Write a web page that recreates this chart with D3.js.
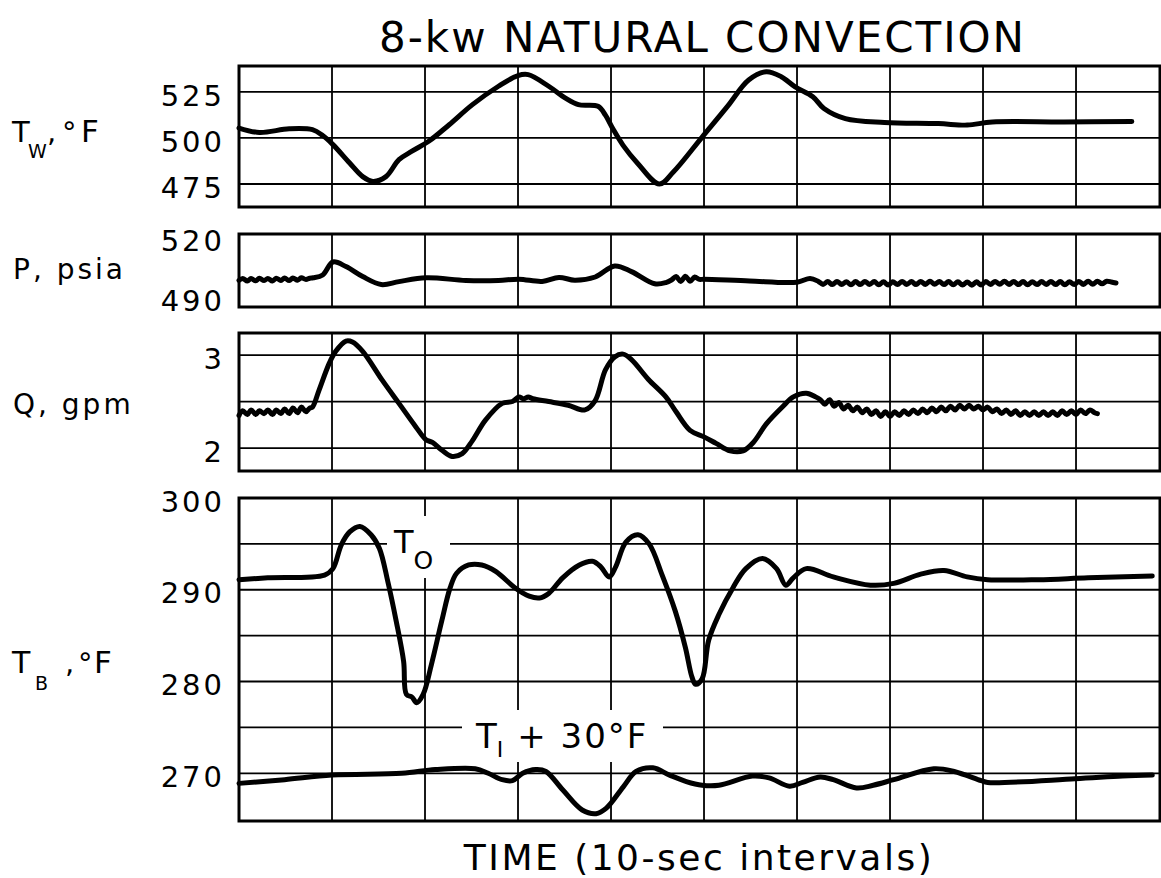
<!DOCTYPE html>
<html>
<head>
<meta charset="utf-8">
<script src="https://cdn.jsdelivr.net/npm/d3@7"></script>
<style>
  body { margin: 0; background: #fff; }
  text { font-family: 'DejaVu Sans', sans-serif; fill: #000; }
</style>
</head>
<body>
<div id="chart"></div>
<script>
// time in seconds
const timeGrid = [10, 20, 30, 40, 50, 60, 70, 80, 90];

const twGrid = [475, 500, 525];
const twTicks = [475, 500, 525];
const twData = [
    [0, 505.4], [2.2, 503], [5.4, 505], [7.9, 504.5], [9.0, 501.3], [10.1, 496.4],
    [11.9, 486.4], [13.3, 479], [14.4, 476.4], [15.8, 479], [17.2, 488.2], [18.6, 492.8],
    [20.4, 498.2], [22.6, 507.2], [25.1, 518.1], [27.9, 528.1], [30, 533.9], [31.1, 534.4],
    [33.3, 528.1], [35.1, 521.7], [36.5, 518.1], [38.6, 517.2], [39.4, 512.4], [40.2, 505],
    [41.3, 496], [42.9, 486], [45.2, 475], [46.7, 481.5], [49.8, 500.5], [52.5, 517],
    [54.8, 531.5], [56.7, 536], [58.3, 533.3], [59.8, 527.8], [61.7, 522.4], [62.9, 516],
    [65.2, 510.5], [69.4, 508.4], [75.2, 507.8], [78.3, 507], [81, 508.7], [88.7, 508.7],
    [96, 509]
];

const pGrid = [];
const pTicks = [490, 520];
const pData = [
    [0, 498.3], [0.4, 499.3], [0.9, 498.0], [1.3, 499.2], [1.8, 498.1], [2.2, 499.4],
    [2.7, 498.2], [3.1, 499.3], [3.6, 498.0], [4.0, 499.4], [4.5, 498.3], [4.9, 499.5],
    [5.4, 498.2], [5.8, 499.5], [6.3, 498.4], [6.7, 499.6], [7.2, 498.8], [7.6, 499.4],
    [8.0, 499.6], [9.0, 501], [10.1, 507.5], [11.5, 505.2], [13.3, 500.2], [15.3, 496.2],
    [17.2, 497.7], [20.1, 499.6], [24.4, 498.3], [27.9, 498.3], [30.1, 498.9], [32.6, 497.8],
    [34.4, 499.8], [36.1, 498.4], [38.3, 500], [40.4, 505.5], [42.2, 502.7], [44.7, 496.6],
    [45.9, 497.2], [46.5, 498.5], [47.0, 500.2], [47.5, 497.8], [48.0, 500.4], [48.5, 497.9],
    [49.0, 500.0], [49.5, 498.8], [50.0, 498.9], [54.9, 498.0], [60.0, 497.4], [61.4, 499.3],
    [62.3, 497.8], [62.8, 496.3], [63.3, 497.7], [63.8, 496.2], [64.3, 497.8], [64.8, 496.3],
    [65.3, 497.6], [65.8, 496.1], [66.3, 497.7], [66.8, 496.2], [67.3, 497.8], [67.8, 496.3],
    [68.3, 497.7], [68.8, 496.1], [69.3, 497.6], [69.8, 496.0], [70.3, 497.6], [70.8, 496.2],
    [71.3, 497.8], [71.8, 496.3], [72.3, 497.7], [72.8, 496.2], [73.3, 497.8], [73.8, 496.3],
    [74.3, 497.9], [74.8, 496.4], [75.3, 497.8], [75.8, 496.2], [76.3, 497.7], [76.8, 496.1],
    [77.3, 497.6], [77.8, 496.0], [78.3, 497.5], [78.8, 495.9], [79.3, 497.6], [79.8, 496.0],
    [80.3, 497.7], [80.8, 496.3], [81.3, 497.8], [81.8, 496.4], [82.3, 497.9], [82.8, 496.3],
    [83.3, 497.8], [83.8, 496.2], [84.3, 497.7], [84.8, 496.1], [85.3, 497.6], [85.8, 496.2],
    [86.3, 497.7], [86.8, 496.3], [87.3, 497.8], [87.8, 496.2], [88.3, 497.7], [88.8, 496.1],
    [89.3, 497.6], [89.8, 496.2], [90.3, 497.8], [90.8, 496.3], [91.3, 497.9], [91.8, 496.4],
    [92.3, 497.9], [92.8, 496.6], [93.3, 497.9], [93.8, 497.5], [94.3, 497.0]
];

const qGrid = [2, 2.5, 3];
const qTicks = [2, 3];
const qData = [
    [0, 2.35], [0.4, 2.40], [0.9, 2.36], [1.3, 2.41], [1.8, 2.36], [2.2, 2.40], [2.7, 2.37],
    [3.1, 2.41], [3.6, 2.36], [4.0, 2.41], [4.5, 2.37], [4.9, 2.42], [5.4, 2.37], [5.8, 2.43],
    [6.3, 2.38], [6.7, 2.44], [7.2, 2.39], [7.6, 2.43], [7.9, 2.44], [8.6, 2.62], [9.7, 2.91],
    [10.4, 3.04], [11.5, 3.15], [12.2, 3.14], [13.3, 3.04], [15.4, 2.73], [17.2, 2.48],
    [19, 2.23], [20.1, 2.09], [20.8, 2.06], [21.9, 1.97], [22.9, 1.91], [24, 1.94],
    [25.1, 2.08], [26.5, 2.30], [28.3, 2.48], [29.4, 2.50], [30.1, 2.55], [30.6, 2.53],
    [31.1, 2.55], [31.6, 2.53], [33.3, 2.50], [35.4, 2.46], [37.2, 2.41], [38.3, 2.51],
    [39.4, 2.84], [40.4, 2.98], [41.3, 3.01], [42.2, 2.95], [44, 2.74], [45.9, 2.55],
    [47, 2.39], [48.5, 2.19], [50, 2.12], [51.3, 2.05], [52.8, 1.97], [54.2, 1.97],
    [55.3, 2.06], [56.7, 2.26], [58.5, 2.45], [59.6, 2.55], [61, 2.59], [62.0, 2.55],
    [62.5, 2.52], [63.0, 2.47], [63.5, 2.52], [64.0, 2.45], [64.5, 2.49], [65.0, 2.42],
    [65.5, 2.46], [66.0, 2.40], [66.5, 2.44], [67.0, 2.38], [67.5, 2.42], [68.0, 2.36],
    [68.5, 2.40], [69.0, 2.34], [69.5, 2.39], [70.0, 2.34], [70.5, 2.39], [71.0, 2.35],
    [71.5, 2.40], [72.0, 2.36], [72.5, 2.41], [73.0, 2.37], [73.5, 2.42], [74.0, 2.38],
    [74.5, 2.43], [75.0, 2.39], [75.5, 2.44], [76.0, 2.40], [76.5, 2.45], [77.0, 2.41],
    [77.5, 2.46], [78.0, 2.42], [78.5, 2.46], [79.0, 2.42], [79.5, 2.45], [80.0, 2.41],
    [80.5, 2.44], [81.0, 2.39], [81.5, 2.42], [82.0, 2.37], [82.5, 2.41], [83.0, 2.36],
    [83.5, 2.40], [84.0, 2.35], [84.5, 2.39], [85.0, 2.35], [85.5, 2.39], [86.0, 2.35],
    [86.5, 2.39], [87.0, 2.35], [87.5, 2.39], [88.0, 2.35], [88.5, 2.40], [89.0, 2.36],
    [89.5, 2.40], [90.0, 2.36], [90.5, 2.41], [91.0, 2.37], [91.5, 2.41], [92.0, 2.38],
    [92.3, 2.37]
];

const tbGrid = [270, 275, 280, 285, 290, 295];
const tbTicks = [270, 280, 290, 300];
const toData = [
    [0, 291.1], [3.1, 291.3], [9.2, 291.6], [10.1, 292.3], [11, 294.9], [11.9, 296.3],
    [13, 296.9], [14.2, 296], [15.1, 294.5], [16, 290.9], [16.9, 286.6], [17.7, 282.2],
    [18, 278.6], [18.6, 278.3], [19.1, 277.7], [19.8, 278.6], [20.7, 281.9], [21.8, 286.6],
    [22.7, 290.2], [23.4, 291.8], [24.7, 292.7], [26.1, 292.7], [27.6, 292], [29.7, 290.2],
    [31.2, 289.3], [32.3, 289.1], [33.3, 289.6], [34.8, 291.3], [36.6, 292.7], [38, 293.1],
    [38.9, 292.5], [39.8, 291.4], [40.5, 292.5], [41.6, 295.2], [42.9, 296], [44.1, 295],
    [45.5, 291.6], [46.9, 287.7], [48, 283.7], [48.7, 280.5], [49.1, 279.7], [49.8, 280.3],
    [50.5, 284.5], [51.6, 287.3], [53.1, 290.2], [54.5, 292.3], [56.3, 293.4], [57.8, 292.3],
    [58.8, 290.5], [59.6, 291.3], [61, 292.3], [63.9, 291.4], [67.9, 290.5], [70.4, 290.7],
    [73.3, 291.7], [75.8, 292.1], [78.3, 291.4], [80.5, 291.1], [85.9, 291.1], [91.3, 291.3],
    [98.2, 291.5]
];
const tiData = [
    [0, 268.9], [4.9, 269.3], [10, 269.8], [17.5, 270], [21.1, 270.4], [25.4, 270.5],
    [26.8, 270], [28.3, 269.3], [29.4, 269.2], [30.5, 270], [31.9, 270.4], [33, 270.2],
    [34.8, 268.2], [36.9, 266], [38.4, 265.6], [39.5, 266.2], [41.3, 268.5], [42.7, 270.2],
    [44.5, 270.6], [46.3, 269.8], [48.1, 269.1], [49.8, 268.7], [51.6, 268.7], [55.2, 269.7],
    [57, 269.5], [59.2, 268.6], [60.6, 269], [62.5, 269.6], [63.9, 269.3], [66.4, 268.4],
    [68.2, 268.7], [70.4, 269.3], [74.7, 270.5], [76.9, 270.2], [79.8, 269.2], [80.5, 269],
    [89.9, 269.4], [95, 269.7], [98.2, 269.8]
];

const W = 1161, H = 878;
const svg = d3.select('#chart').append('svg')
    .attr('width', W)
    .attr('height', H);
svg.append('rect').attr('width', W).attr('height', H).attr('fill', '#fff');

const x = d3.scaleLinear().domain([0, 99.03]).range([239, 1160]);

const panels = [
    { series: [twData], grid: twGrid, ticks: twTicks, domain: [462.5, 539.1], range: [207, 66] },
    { series: [pData], grid: pGrid, ticks: pTicks, domain: [485, 521.5], range: [307, 234] },
    { series: [qData], grid: qGrid, ticks: qTicks, domain: [1.753, 3.237], range: [471, 333] },
    { series: [toData, tiData], grid: tbGrid, ticks: tbTicks, domain: [264.8, 300], range: [821, 498] },
];

panels.forEach(function (p) {
    const y = d3.scaleLinear().domain(p.domain).range(p.range);
    p.y = y;
    const g = svg.append('g');

    // grid
    g.selectAll('.hgrid').data(p.grid).enter().append('line')
        .attr('x1', x.range()[0]).attr('x2', x.range()[1])
        .attr('y1', d => y(d)).attr('y2', d => y(d))
        .attr('stroke', '#000').attr('stroke-width', 1.8);
    g.selectAll('.vgrid').data(timeGrid).enter().append('line')
        .attr('x1', d => x(d)).attr('x2', d => x(d))
        .attr('y1', p.range[0]).attr('y2', p.range[1])
        .attr('stroke', '#000').attr('stroke-width', 1.8);

    // frame
    g.append('rect')
        .attr('x', x.range()[0]).attr('y', p.range[1])
        .attr('width', x.range()[1] - x.range()[0])
        .attr('height', p.range[0] - p.range[1])
        .attr('fill', 'none').attr('stroke', '#000').attr('stroke-width', 3);

    // tick labels
    const axis = d3.axisLeft(y).tickValues(p.ticks).tickSize(0).tickPadding(14)
        .tickFormat(d3.format('d'));
    const ag = g.append('g').attr('transform', 'translate(' + x.range()[0] + ',0)').call(axis);
    ag.select('.domain').remove();
    ag.selectAll('text')
        .attr('font-family', "'DejaVu Sans', sans-serif")
        .attr('font-size', 29)
        .attr('letter-spacing', 3)
        .attr('dy', '0.45em')
        .attr('fill', '#000');
});

// white patches behind the curve labels
svg.append('rect').attr('x', 387).attr('y', 516).attr('width', 63).attr('height', 62).attr('fill', '#fff');
svg.append('rect').attr('x', 462).attr('y', 710).attr('width', 201).attr('height', 52).attr('fill', '#fff');

// traces
panels.forEach(function (p) {
    const line = d3.line()
        .x(d => x(d[0]))
        .y(d => p.y(d[1]))
        .curve(d3.curveCatmullRom.alpha(0.5));
    p.series.forEach(function (s) {
        svg.append('path')
            .datum(s)
            .attr('d', line)
            .attr('fill', 'none')
            .attr('stroke', '#000')
            .attr('stroke-width', 5)
            .attr('stroke-linejoin', 'round')
            .attr('stroke-linecap', 'round');
    });
});

// curve labels
const toLabel = svg.append('text').attr('x', 394).attr('y', 553).attr('font-size', 32);
toLabel.append('tspan').text('T');
toLabel.append('tspan').attr('font-size', 25).attr('dy', 16).text('O');

const tiLabel = svg.append('text').attr('x', 476).attr('y', 748).attr('font-size', 34);
tiLabel.append('tspan').text('T');
tiLabel.append('tspan').attr('font-size', 22).attr('dy', 9).text('I');
tiLabel.append('tspan').attr('dy', -9).attr('dx', 14).attr('letter-spacing', 2).text('+ 30°F');

// axis titles on the left
function put(px, py, s, size) {
    svg.append('text').attr('x', px).attr('y', py).attr('font-size', size).text(s);
}
put(12, 142, 'T', 29);
put(28, 158, 'W', 19);
put(47, 142, ',', 29);
put(62, 142, '°', 29);
put(81, 142, 'F', 31);

svg.append('text').attr('x', 13).attr('y', 279).attr('font-size', 28)
    .attr('letter-spacing', 3).text('P, psia');
svg.append('text').attr('x', 13).attr('y', 414).attr('font-size', 28)
    .attr('letter-spacing', 3).text('Q, gpm');

put(12, 673, 'T', 30);
put(35, 690, 'B', 19);
put(65, 673, ',', 29);
put(78, 673, '°', 29);
put(94, 673, 'F', 31);

// title and time label
svg.append('text')
    .attr('x', 379).attr('y', 52)
    .attr('font-size', 42)
    .attr('textLength', 645).attr('lengthAdjust', 'spacing')
    .text('8-kw NATURAL CONVECTION');

svg.append('text')
    .attr('x', 699).attr('y', 870)
    .attr('text-anchor', 'middle')
    .attr('font-size', 36)
    .attr('letter-spacing', 2.5)
    .text('TIME (10-sec intervals)');
</script>
</body>
</html>
